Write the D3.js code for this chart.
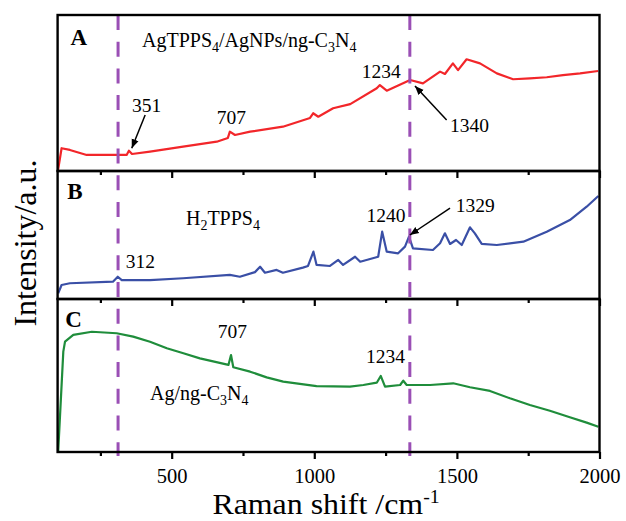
<!DOCTYPE html>
<html><head><meta charset="utf-8">
<script src="https://cdn.jsdelivr.net/npm/d3@7"></script>
<style>body{margin:0;background:#fff}svg{display:block}text{font-family:"Liberation Serif","Times New Roman",serif;fill:#000}</style>
</head><body><svg id="c" width="626" height="521"></svg>
<script>
// ---- data ----
const wnA  = [101,114,143,202,342,350,361,424,540,658,697,704,722,775,890,985,996,1014,1066,1126,1219,1230,1254,1336,1381,1441,1458,1486,1504,1534,1581,1640,1697,1756,1815,1872,1932,1995];
const intA = [0,14.6,13.5,10.3,10.3,13.0,10.9,12.4,15.6,18.8,21.2,25.2,23.1,25.2,28.4,34,37,34.8,40.2,42.9,53,55.1,51.5,58.3,56.2,63.7,62.2,69,64.7,71.6,69,62.6,58.8,59.4,60.1,61.5,62.6,64.1];

const wnB  = [102,114,143,294,311,325,424,540,704,739,792,810,827,868,890,960,978,997,1008,1055,1084,1101,1143,1161,1224,1238,1254,1294,1318,1332,1346,1416,1441,1458,1476,1497,1517,1546,1563,1587,1640,1733,1815,1896,1955,1996];
const intB = [4.5,10.9,12.3,13.5,17.4,14.8,14.8,16.2,18.8,17.4,21,25.2,20.5,22.7,20.5,24.5,25.8,37,26.6,25.8,30.5,26.6,33,29.1,33,52.6,37,35.7,40.9,48.7,39.6,38.3,43.5,51.3,43,46.1,42.2,56,51.3,43,42.2,44.8,52.6,61.7,72.1,80.5];

const wnC  = [102,120,126,155,220,307,365,424,483,541,599,699,708,716,775,833,891,1008,1125,1172,1219,1233,1248,1301,1312,1324,1406,1487,1546,1616,1686,1756,1826,1896,1955,1996];
const intC = [0,65.6,72.1,76.5,78.6,77.6,75.4,72.1,67.8,64.5,61.2,56.9,63.4,55.4,52.5,48.8,46,43.1,42.7,43.8,45.3,49.7,42.7,43.8,46.6,43.8,43.8,44.9,42.3,39.9,35.1,30.7,27,22.7,19.2,16.5];

const refLines   = [312, 1335];
const majorTicks = [500, 1000, 1500, 2000];
const minorTicks = [250, 750, 1250, 1750];
const panelLetters = ["A", "B", "C"];
const sampleNames = [
  [["AgTPPS",""],["4","sub"],["/AgNPs/ng-C",""],["3","sub"],["N",""],["4","sub"]],
  [["H",""],["2","sub"],["TPPS",""],["4","sub"]],
  [["Ag/ng-C",""],["3","sub"],["N",""],["4","sub"]]
];
const peakLabels = [
  {p:0, t:"351",  wn:412,  v:37.8},
  {p:0, t:"707",  wn:709,  v:30},
  {p:0, t:"1234", wn:1235, v:59.4},
  {p:0, t:"1340", wn:1544, v:25.2},
  {p:1, t:"312",  wn:390,  v:24},
  {p:1, t:"1240", wn:1251, v:60.4},
  {p:1, t:"1329", wn:1564, v:68.2},
  {p:2, t:"707",  wn:713,  v:74.3},
  {p:2, t:"1234", wn:1250, v:58.4}
];
const arrows = [
  {p:0, wn0:407,  v0:35.9, wn1:360,  v1:14.6},
  {p:0, wn0:1464, v0:32.7, wn1:1353, v1:54.5},
  {p:1, wn0:1476, v0:70.9, wn1:1335, v1:50}
];

// ---- layout ----
const svg = d3.select("#c");
const x = d3.scaleLinear().domain([100, 2000]).range([57.6, 599.5]);
const panels = [
  {top:15,  bottom:171, wn:wnA, v:intA, color:"#f2262a", letter:[145,80.8], name:[396,79.7]},
  {top:171, bottom:299, wn:wnB, v:intB, color:"#3a4fa6", letter:[134,77.9], name:[550,57.8]},
  {top:299, bottom:452, wn:wnC, v:intC, color:"#1f8d3b", letter:[127,81.7], name:[424,34]}
];
panels.forEach(p => p.y = d3.scaleLinear().domain([0,100]).range([p.bottom, p.top]));

const defs = svg.append("defs");
defs.append("marker").attr("id","ah").attr("viewBox","0 0 10 10").attr("refX",10).attr("refY",5)
  .attr("markerWidth",9).attr("markerHeight",9).attr("markerUnits","userSpaceOnUse").attr("orient","auto")
  .append("path").attr("d","M0,1 L10,5 L0,9 Z").attr("fill","#000");

function rich(sel, parts, size, subSize){
  parts.forEach(([t,k], i) => {
    const ts = sel.append("tspan").text(t);
    const prev = i>0 ? parts[i-1][1] : "";
    if (k === "sub") { ts.attr("font-size", subSize).attr("dy", 5); }
    else if (k === "sup") { ts.attr("font-size", subSize).attr("dy", -11); }
    else {
      if (prev === "sub") ts.attr("dy", -5);
      if (prev === "sup") ts.attr("dy", 11);
      ts.attr("font-size", size);
    }
  });
}

// curves
panels.forEach(p => {
  const line = d3.line().x((d,i)=>x(p.wn[i])).y((d,i)=>p.y(p.v[i]));
  svg.append("path").datum(p.v).attr("d", line).attr("fill","none")
    .attr("stroke", p.color).attr("stroke-width", 2.2).attr("stroke-linejoin","round");
});

// dashed reference lines
refLines.forEach(r => {
  svg.append("line").attr("x1", x(r)).attr("x2", x(r)).attr("y1", 15).attr("y2", 456)
    .attr("stroke", "#9a4fb5").attr("stroke-width", 3).attr("stroke-dasharray", "15,11.7");
});

// axes and frames
panels.forEach((p, i) => {
  const gMaj = svg.append("g").attr("transform", `translate(0,${p.bottom})`)
    .call(d3.axisBottom(x).tickValues(majorTicks).tickSize(7).tickSizeOuter(0)
      .tickFormat(i === 2 ? d3.format("d") : ""));
  gMaj.select(".domain").remove();
  gMaj.selectAll("line").attr("stroke","#000").attr("stroke-width",2.2);
  gMaj.selectAll("text").attr("font-size", 20.5).attr("y", 31).attr("dy", 0)
    .attr("font-family", '"Liberation Serif","Times New Roman",serif').attr("fill","#000");
  const gMin = svg.append("g").attr("transform", `translate(0,${p.bottom})`)
    .call(d3.axisBottom(x).tickValues(minorTicks).tickSize(4).tickSizeOuter(0).tickFormat(""));
  gMin.select(".domain").remove();
  gMin.selectAll("line").attr("stroke","#000").attr("stroke-width",2.2);
  svg.append("rect").attr("x", x(100)).attr("y", p.top).attr("width", x(2000)-x(100))
    .attr("height", p.bottom - p.top).attr("fill","none").attr("stroke","#000").attr("stroke-width",2.4);

  svg.append("text").attr("x", x(p.letter[0])).attr("y", p.y(p.letter[1]))
    .attr("font-size", 23).attr("font-weight","bold").text(panelLetters[i]);
  const nm = svg.append("text").attr("x", x(p.name[0])).attr("y", p.y(p.name[1]));
  rich(nm, sampleNames[i], 20, 14);
});

// peak labels
peakLabels.forEach(d => {
  const p = panels[d.p];
  svg.append("text").attr("x", x(d.wn)).attr("y", p.y(d.v)).attr("text-anchor","middle")
    .attr("font-size", 19.5).text(d.t);
});

// arrows
arrows.forEach(a => {
  const p = panels[a.p];
  svg.append("line").attr("x1", x(a.wn0)).attr("y1", p.y(a.v0)).attr("x2", x(a.wn1)).attr("y2", p.y(a.v1))
    .attr("stroke","#000").attr("stroke-width",1.5).attr("marker-end","url(#ah)");
});

// axis titles
const xt = svg.append("text").attr("transform","translate(326,514.3) scale(1.1,1)").attr("text-anchor","middle");
rich(xt, [["Raman shift /cm",""],["-1","sup"]], 29, 18);
svg.append("text").attr("transform","translate(36,243) rotate(-90)").attr("text-anchor","middle")
  .attr("font-size", 32).text("Intensity/a.u.");
</script></body></html>
